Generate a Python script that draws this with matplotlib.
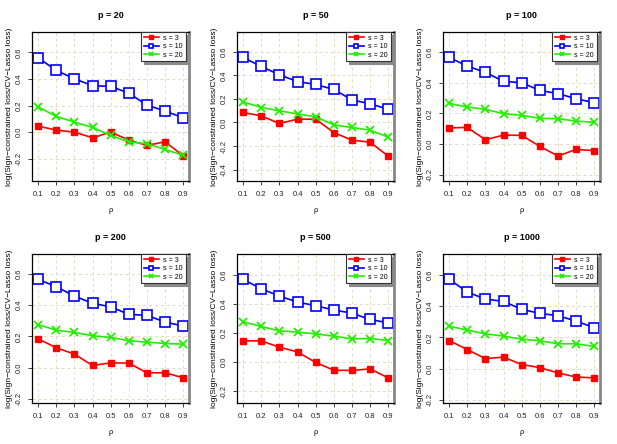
import matplotlib
matplotlib.use("Agg")
import matplotlib.pyplot as plt
import numpy as np

plt.rcParams['font.family'] = ['Liberation Sans', 'DejaVu Sans']

rho = [0.1, 0.2, 0.3, 0.4, 0.5, 0.6, 0.7, 0.8, 0.9]
p_values = [20, 50, 100, 200, 500, 1000]
series_labels = ["s = 3", "s = 10", "s = 20"]

# log loss ratio, one list per p, per s
s3 = {
    20: [0.045, 0.015, 0.0, -0.043, 0.0, -0.06, -0.10, -0.073, -0.178],
    50: [0.085, 0.056, -0.008, 0.028, 0.028, -0.085, -0.15, -0.167, -0.285],
    100: [0.105, 0.109, 0.029, 0.059, 0.057, -0.014, -0.077, -0.034, -0.042],
    200: [0.184, 0.127, 0.086, 0.013, 0.030, 0.028, -0.034, -0.034, -0.066],
    500: [0.147, 0.147, 0.103, 0.071, -0.002, -0.055, -0.057, -0.046, -0.108],
    1000: [0.180, 0.122, 0.064, 0.073, 0.026, 0.006, -0.028, -0.054, -0.060],
}
s10 = {
    20: [0.559, 0.464, 0.401, 0.349, 0.344, 0.293, 0.203, 0.158, 0.108],
    50: [0.551, 0.475, 0.404, 0.347, 0.322, 0.280, 0.192, 0.158, 0.113],
    100: [0.563, 0.507, 0.466, 0.408, 0.399, 0.349, 0.328, 0.295, 0.269],
    200: [0.566, 0.519, 0.459, 0.412, 0.390, 0.341, 0.335, 0.292, 0.266],
    500: [0.570, 0.506, 0.455, 0.414, 0.389, 0.359, 0.338, 0.294, 0.271],
    1000: [0.573, 0.491, 0.446, 0.431, 0.380, 0.354, 0.339, 0.305, 0.262],
}
s20 = {
    20: [0.19, 0.118, 0.075, 0.035, -0.025, -0.073, -0.088, -0.13, -0.175],
    50: [0.175, 0.127, 0.099, 0.073, 0.048, -0.02, -0.042, -0.065, -0.124],
    100: [0.265, 0.241, 0.226, 0.198, 0.187, 0.168, 0.165, 0.150, 0.142],
    200: [0.275, 0.240, 0.225, 0.204, 0.193, 0.172, 0.163, 0.154, 0.150],
    500: [0.278, 0.246, 0.216, 0.207, 0.195, 0.179, 0.161, 0.163, 0.149],
    1000: [0.272, 0.247, 0.223, 0.208, 0.189, 0.178, 0.159, 0.159, 0.142],
}

ylims = {
    20: (-0.368, 0.753),
    50: (-0.496, 0.767),
    100: (-0.239, 0.728),
    200: (-0.228, 0.729),
    500: (-0.281, 0.745),
    1000: (-0.221, 0.735),
}
yticks = {
    20: [-0.2, 0.0, 0.2, 0.4, 0.6],
    50: [-0.4, -0.2, 0.0, 0.2, 0.4, 0.6],
    100: [-0.2, 0.0, 0.2, 0.4, 0.6],
    200: [-0.2, 0.0, 0.2, 0.4, 0.6],
    500: [-0.2, 0.0, 0.2, 0.4, 0.6],
    1000: [-0.2, 0.0, 0.2, 0.4, 0.6],
}

W, H = 617, 444
fig = plt.figure(figsize=(W / 100, H / 100), dpi=100)

col_left = [32.3, 237.3, 443.3]
col_width = [156.7, 156.7, 156.7]
row_top = [32, 254]
ax_h = 149

grid_col = "#e6d9bf"

for i, p in enumerate(p_values):
    r, c = divmod(i, 3)
    ax = fig.add_axes([col_left[c] / W, (H - row_top[r] - ax_h) / H,
                       col_width[c] / W, ax_h / H])
    ax.set_xlim(0.068, 0.932)
    ax.set_ylim(*ylims[p])
    ax.set_xticks(rho)
    ax.set_yticks(yticks[p])
    ax.set_xticklabels([f"{v:.1f}" for v in rho])
    ax.set_yticklabels([f"{v:.1f}" for v in yticks[p]], rotation=90, va="center")
    ax.tick_params(labelsize=5.5, length=3, width=0.6, pad=4, colors="#222222")
    ax.grid(True, color=grid_col, linestyle=(0, (3, 3)), linewidth=0.7)
    ax.set_axisbelow(True)
    for sp in ax.spines.values():
        sp.set_linewidth(0.9)
    ax.spines["right"].set_color("#888888")
    ax.spines["right"].set_linewidth(2)

    ax.plot(rho, s3[p], color="red", lw=1.2, marker="s", ms=5,
            mfc="red", mec="red", label=series_labels[0])
    ax.plot(rho, s10[p], color="blue", lw=1.2, marker="s", ms=7,
            mfc="white", mec="blue", mew=1.2, label=series_labels[1])
    ax.plot(rho, s20[p], color="#22ee00", lw=1.2, marker="x", ms=6,
            mew=1.3, label=series_labels[2])

    ax.set_title(f"p = {p}", fontsize=6.5, fontweight="bold", pad=10)
    ax.set_xlabel("ρ", fontsize=5.5, labelpad=7)
    ax.set_ylabel("log(Sign\u2212constrained loss/CV\u2212Lasso loss)", fontsize=6, labelpad=2)

    handles, labels = ax.get_legend_handles_labels()
    leg = ax.legend(handles, labels, loc="upper right", fontsize=5,
                    bbox_to_anchor=(1 - 3.5 / col_width[c], 1),
                    frameon=True, fancybox=False, borderpad=0.4,
                    handlelength=2.2, handletextpad=0.6, labelspacing=0.2,
                    borderaxespad=0, markerscale=0.45,
                    shadow={"color": "#8a8a8a", "alpha": 1})
    leg.get_frame().set_edgecolor("#333333")
    leg.get_frame().set_linewidth(0.8)

fig.savefig("out.png", dpi=100)
